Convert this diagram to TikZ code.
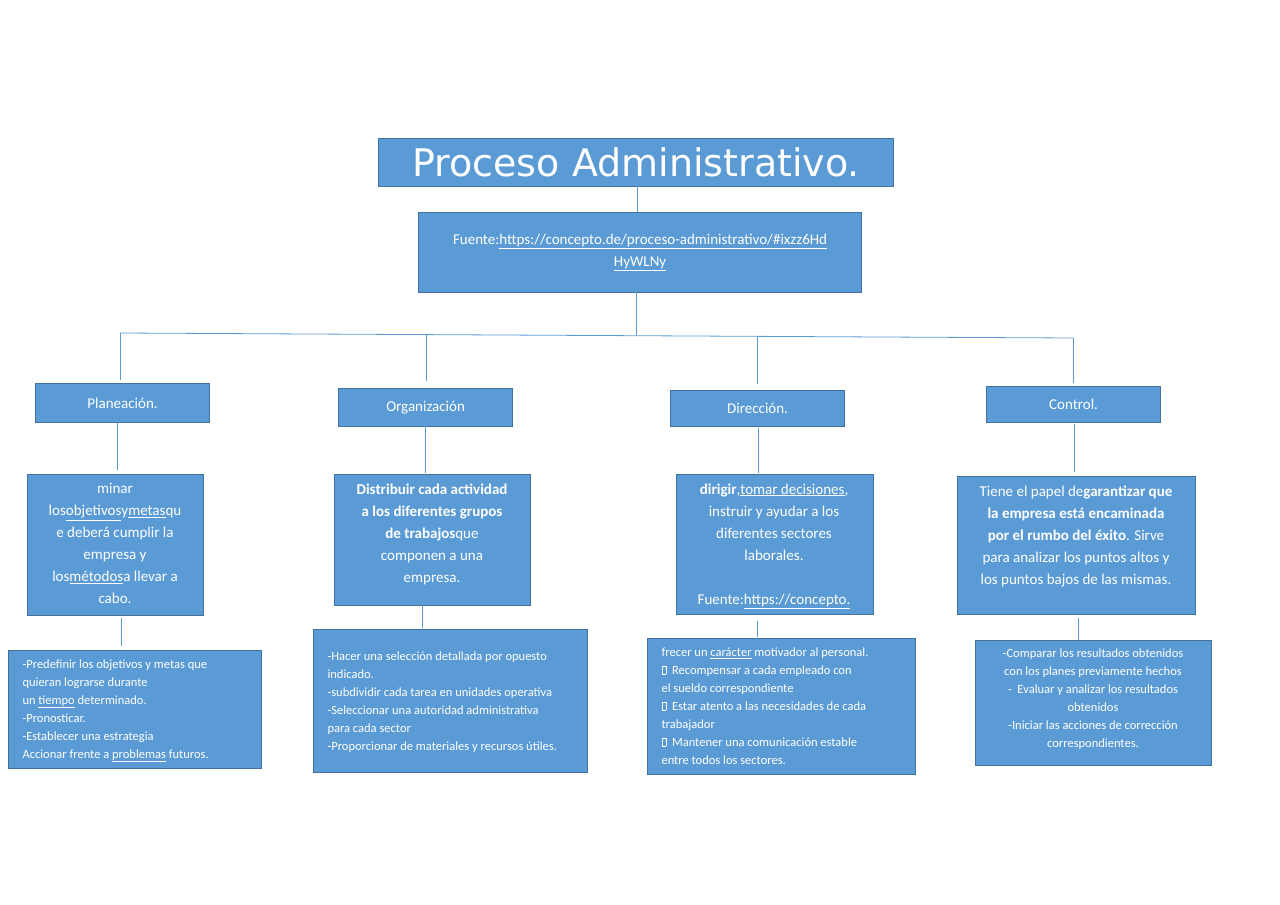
\documentclass[tikz,border=0pt]{standalone}
\usepackage{fontspec}
\setmainfont{Carlito}
\newfontfamily\dejavu{DejaVu Sans}
\newcommand{\ul}[1]{\underline{#1}}
\definecolor{bfill}{HTML}{5B9BD5}
\definecolor{bdraw}{HTML}{41719C}
\definecolor{lcol}{HTML}{5B9BD5}
\newcommand{\mbx}{{\setlength{\fboxsep}{0pt}\setlength{\fboxrule}{0.4pt}\fbox{\rule{0pt}{0.62em}\hspace{0.33em}}}}
\begin{document}
\begin{tikzpicture}[x=1pt,y=-1pt,
 box/.style={draw=bdraw,fill=bfill,line width=1.2pt,text=white,inner sep=0pt},
 ln/.style={draw=lcol,line width=0.8pt}]
\useasboundingbox (0,0) rectangle (1280,905);
\def\bx#1#2#3#4#5{\node[box,minimum width=#3-#2,minimum height=#5-#4,anchor=north west] (#1) at (#2,#4) {};}
\bx{t}{378}{893}{138}{186}
\node[text=white,font=\dejavu\fontsize{38}{40}\selectfont] at (t.center) {Proceso Administrativo.};
\bx{f}{418}{861}{212}{292}
\node[text=white,font=\fontsize{15}{22}\selectfont,align=center] at (f.center) {Fuente:\ul{https://concepto.de/proceso-administrativo/\#ixzz6Hd}\\\ul{HyWLNy}};
\draw[ln] (637,186) -- (637,212);
\draw[ln] (636,292) -- (636,335);
\coordinate (hl) at (120,333); \coordinate (hr) at (1073,338);
\draw[ln] (hl) -- (hr);
\bx{p}{35}{209}{383}{422}
\bx{o}{338}{512}{388}{426}
\bx{d}{670}{844}{390}{426}
\bx{c}{986}{1160}{386}{422}
\tikzset{lab/.style={text=white,font=\fontsize{15}{18}\selectfont}}
\node[lab] at (p.center) {Planeación.};
\node[lab] at (o.center) {Organización};
\node[lab] at (d.center) {Dirección.};
\node[lab] at (c.center) {Control.};
\draw[ln] (hl) -- (120,380);
\draw[ln] (426,335) -- (426,381);
\draw[ln] (757,337) -- (757,384);
\draw[ln] (hr) -- (1073,383);
\draw[ln] (117,422) -- (117,470);
\draw[ln] (425,426) -- (425,473);
\draw[ln] (758,428) -- (758,473);
\draw[ln] (1074,424) -- (1074,472);
\bx{pd}{27}{203}{474}{615}
\bx{od}{334}{530}{474}{605}
\bx{dd}{676}{873}{474}{614}
\bx{cd}{957}{1195}{476}{614}
\tikzset{desc/.style={text=white,font=\fontsize{15}{22}\selectfont,align=center,anchor=north}}
\node[desc] at (115,480) {minar\\los\ul{objetivos}y\ul{metas}qu\\e deberá cumplir la\\empresa y\\los\ul{métodos}a llevar a\\cabo.};
\node[desc] at (432,480) {\textbf{Distribuir cada actividad}\\\textbf{a los diferentes grupos}\\\textbf{de trabajos}que\\componen a una\\empresa.};
\node[desc] at (774,480) {\textbf{dirigir},\ul{tomar decisiones},\\instruir y ayudar a los\\diferentes sectores\\laborales.\\[22pt]Fuente:\ul{https://concepto.}};
\node[desc] at (1076,482) {Tiene el papel de\textbf{garantizar que}\\\textbf{la empresa está encaminada}\\\textbf{por el rumbo del éxito}. Sirve\\para analizar los puntos altos y\\los puntos bajos de las mismas.};
\draw[ln] (121,618) -- (121,646);
\draw[ln] (422,605) -- (422,628);
\draw[ln] (757,621) -- (757,637);
\draw[ln] (1078,618) -- (1078,640);
\bx{pb}{8}{261}{650}{768}
\bx{ob}{313}{587}{629}{772}
\bx{db}{647}{915}{638}{774}
\bx{cb}{975}{1211}{640}{765}
\tikzset{bt/.style={text=white,font=\fontsize{12.5}{18}\selectfont,align=left,anchor=north west}}
\node[bt] at (19,656) {-Predefinir los objetivos y metas que\\quieran lograrse durante\\un \ul{tiempo} determinado.\\-Pronosticar.\\-Establecer una estrategia\\Accionar frente a \ul{problemas} futuros.};
\node[bt] at (324,648) {-Hacer una selección detallada por opuesto\\indicado.\\-subdividir cada tarea en unidades operativa\\-Seleccionar una autoridad administrativa\\para cada sector\\-Proporcionar de materiales y recursos útiles.};
\node[bt] at (658,644) {frecer un \ul{carácter} motivador al personal.\\\mbx\ \ Recompensar a cada empleado con\\el sueldo correspondiente\\\mbx\ \ Estar atento a las necesidades de cada\\trabajador\\\mbx\ \ Mantener una comunicación estable\\entre todos los sectores.};
\node[bt,align=center,anchor=north] at (1093,645) {-Comparar los resultados obtenidos\\con los planes previamente hechos\\-\ \ Evaluar y analizar los resultados\\obtenidos\\-Iniciar las acciones de corrección\\correspondientes.};
\end{tikzpicture}
\end{document}
